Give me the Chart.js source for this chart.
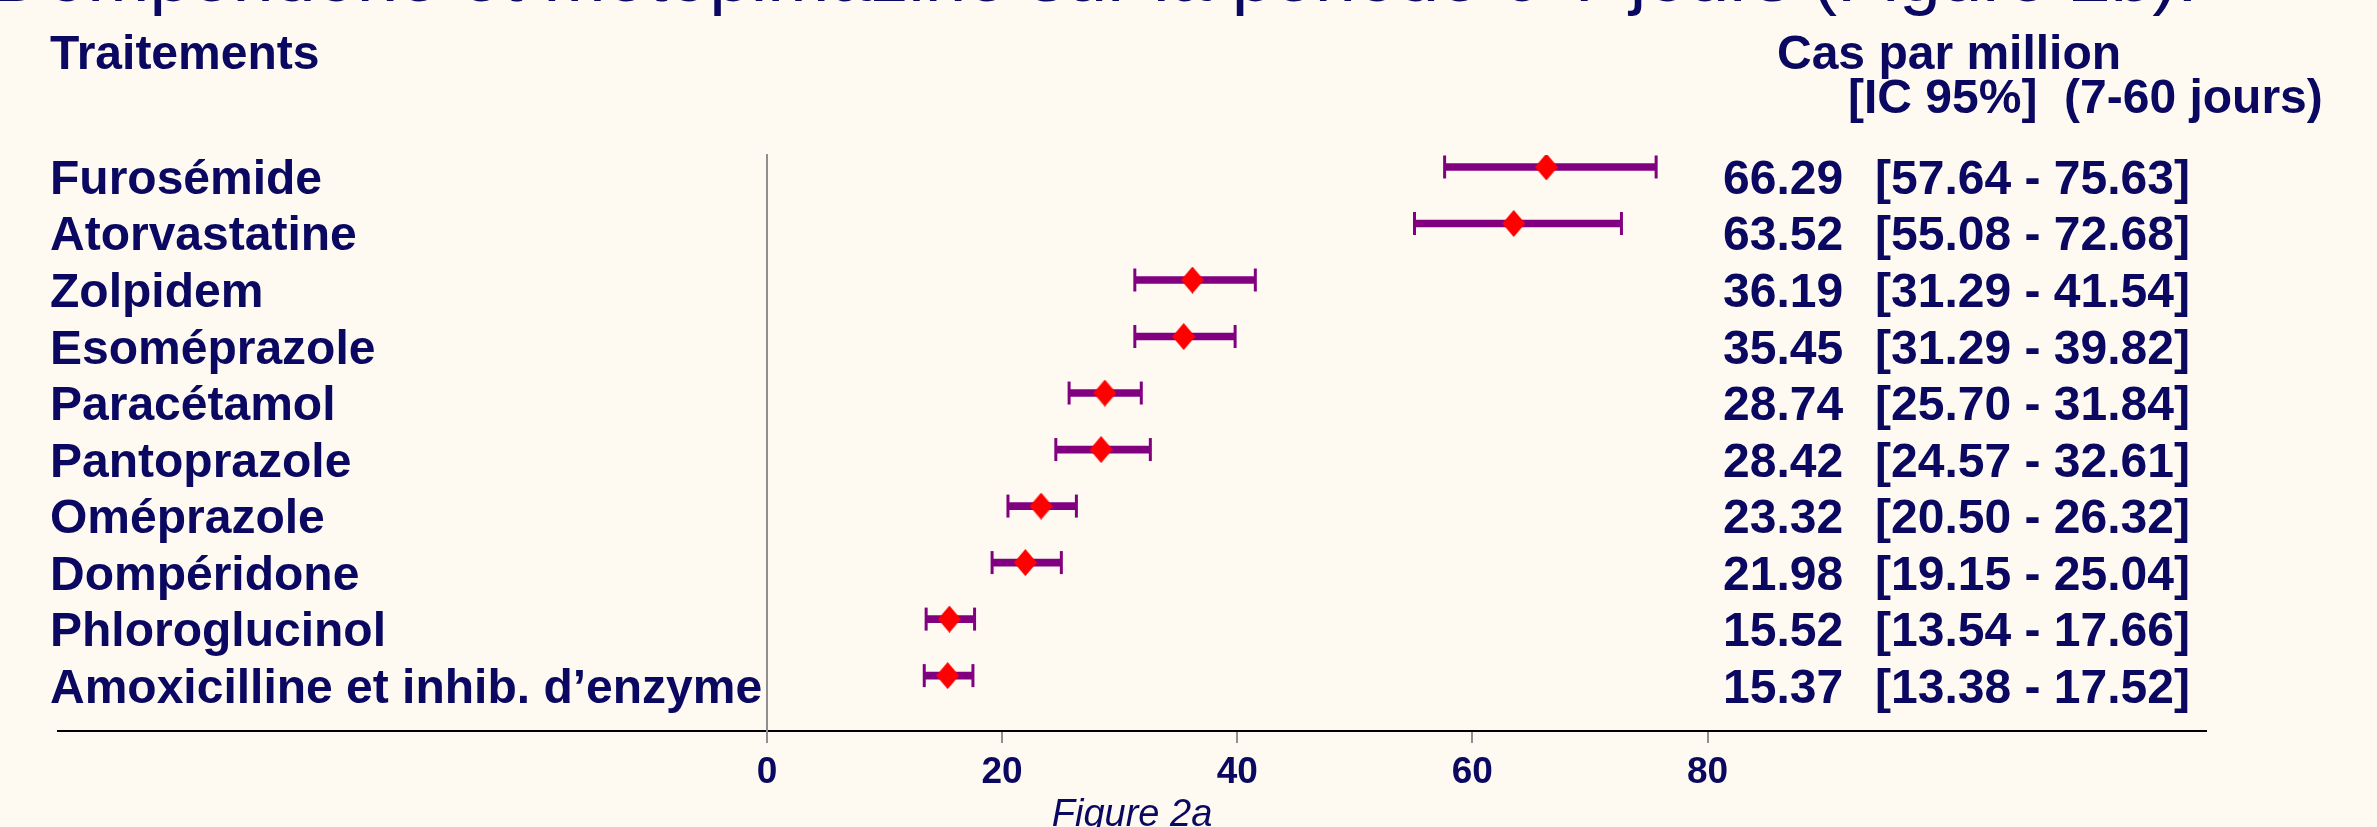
<!DOCTYPE html>
<html>
<head>
<meta charset="utf-8">
<script src="https://cdn.jsdelivr.net/npm/chart.js@4/dist/chart.umd.min.js"></script>
<style>
    html, body { margin: 0; padding: 0; background: #fefaf2; }
    canvas { display: block; }
</style>
</head>
<body>
<canvas id="forest-chart" width="2377" height="827"></canvas>
<script>
// Data
const categories = [
    'Furosémide', 'Atorvastatine', 'Zolpidem', 'Esoméprazole', 'Paracétamol',
    'Pantoprazole', 'Oméprazole', 'Dompéridone', 'Phloroglucinol',
    'Amoxicilline et inhib. d’enzyme'
];
const cases  = [66.29, 63.52, 36.19, 35.45, 28.74, 28.42, 23.32, 21.98, 15.52, 15.37];
const ciLow  = [57.64, 55.08, 31.29, 31.29, 25.70, 24.57, 20.50, 19.15, 13.54, 13.38];
const ciHigh = [75.63, 72.68, 41.54, 39.82, 31.84, 32.61, 26.32, 25.04, 17.66, 17.52];
const xTicks = [0, 20, 40, 60, 80];

const NAVY = '#0a0860';
const PURPLE = '#800080';
const FONT = '"Liberation Sans", Arial, sans-serif';

// red diamond marker, a bit taller than wide
const diamond = document.createElement('canvas');
diamond.width = 23;
diamond.height = 27;
(function () {
    const c = diamond.getContext('2d');
    c.fillStyle = '#ff0000';
    c.beginPath();
    c.moveTo(11.5, 0);
    c.lineTo(23, 13.5);
    c.lineTo(11.5, 27);
    c.lineTo(0, 13.5);
    c.closePath();
    c.fill();
})();

// texts around the plot (labels, header, values column)
const textPlugin = {
    id: 'forestTexts',
    afterDraw(chart) {
        const ctx = chart.ctx;
        const y = chart.scales.y;
        ctx.save();
        ctx.fillStyle = NAVY;
        ctx.textBaseline = 'alphabetic';
        ctx.textAlign = 'left';

        // title, mostly cut off at the top
        ctx.font = '74.6px ' + FONT;
        ctx.fillText('Dompéridone et métopimazine sur la période 0-7 jours (Figure 2b).', -8, 1);

        ctx.font = 'bold 48px ' + FONT;
        ctx.fillText('Traitements', 50, 69);
        ctx.fillText('Cas par million', 1777, 69);
        ctx.fillText('[IC 95%]  (7-60 jours)', 1848, 113);

        categories.forEach((name, i) => {
            const py = y.getPixelForValue(i) + 27;
            ctx.fillText(name, 50, py);
            ctx.fillText(cases[i].toFixed(2), 1723, py);
            ctx.fillText('[' + ciLow[i].toFixed(2) + ' - ' + ciHigh[i].toFixed(2) + ']', 1875, py);
        });
        ctx.restore();
    }
};

const ctx = document.getElementById('forest-chart');
new Chart(ctx, {
    type: 'scatter',
    data: {
        datasets: [
            {
                // point estimate
                label: 'Cas par million',
                data: cases.map((v, i) => ({ x: v, y: i })),
                pointStyle: diamond,
                pointRadius: 12,
                order: 0
            },
            {
                // CI caps
                label: 'Caps',
                data: ciLow.map((v, i) => ({ x: v, y: i }))
                    .concat(ciHigh.map((v, i) => ({ x: v, y: i }))),
                pointStyle: 'line',
                rotation: 90,
                pointRadius: 11.5,
                borderColor: PURPLE,
                borderWidth: 3,
                order: 1
            },
            {
                // CI bar
                type: 'bar',
                label: 'IC 95%',
                indexAxis: 'y',
                data: ciLow.map((v, i) => ({ x: [v, ciHigh[i]], y: i })),
                backgroundColor: PURPLE,
                borderWidth: 0,
                barThickness: 7,
                order: 2
            }
        ]
    },
    options: {
        responsive: false,
        animation: false,
        layout: {
            padding: { left: 58, right: 171, top: 155, bottom: 0 }
        },
        plugins: {
            legend: { display: false },
            tooltip: { enabled: false }
        },
        scales: {
            x: {
                type: 'linear',
                position: 'bottom',
                min: -60.3,
                max: 122.4,
                offset: false,
                afterBuildTicks: (scale) => { scale.ticks = xTicks.map(v => ({ value: v })); },
                afterFit: (scale) => { scale.height = 96; },
                grid: {
                    display: true,
                    drawOnChartArea: false,
                    drawTicks: true,
                    tickLength: 12,
                    tickColor: '#8f8f8f',
                    lineWidth: 2,
                    offset: false
                },
                border: { display: true, color: '#000000', width: 2 },
                ticks: {
                    color: NAVY,
                    padding: 8,
                    maxRotation: 0,
                    font: { family: FONT, size: 37, weight: 'bold' }
                },
                title: {
                    display: true,
                    text: 'Figure 2a',
                    color: NAVY,
                    padding: 0,
                    font: { family: FONT, size: 38, style: 'italic', lineHeight: 0.62 }
                }
            },
            y: {
                type: 'linear',
                position: { x: 0 },
                reverse: true,
                min: -0.212,
                max: 9.98,
                offset: false,
                grid: { display: false, offset: false },
                ticks: { display: false },
                border: { display: true, color: '#8f8f8f', width: 2 }
            }
        }
    },
    plugins: [textPlugin]
});
</script>
</body>
</html>
